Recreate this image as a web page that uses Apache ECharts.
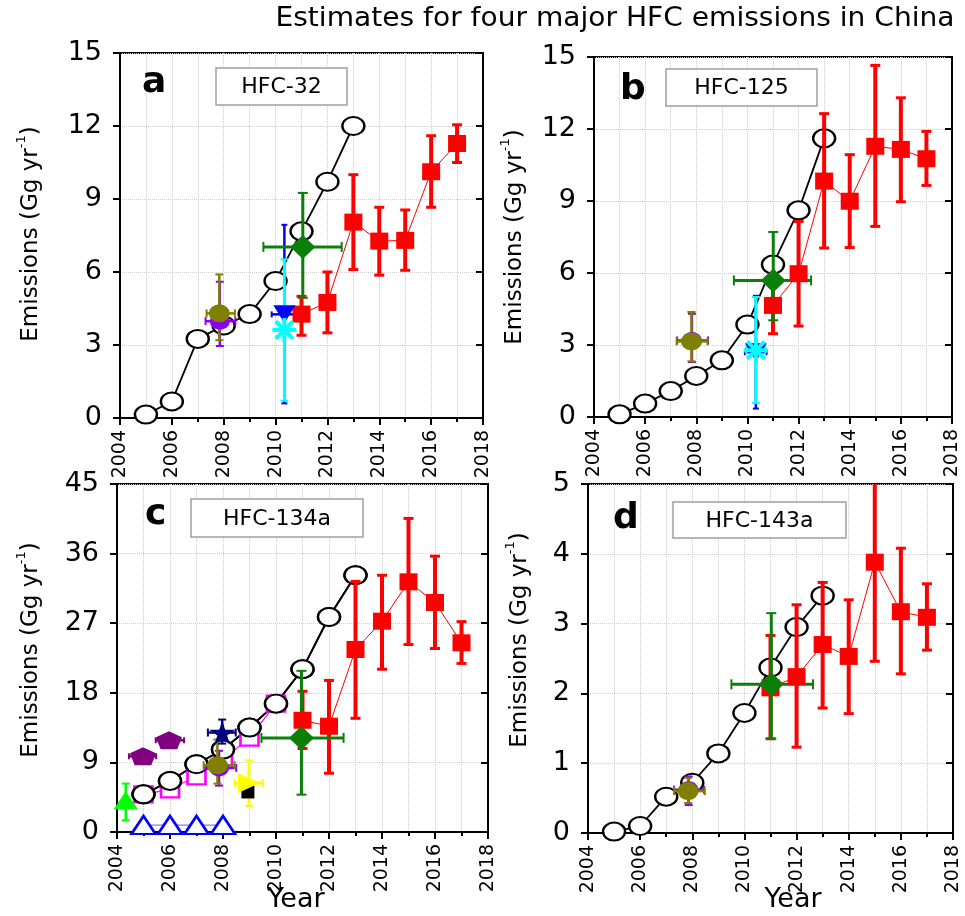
<!DOCTYPE html>
<html>
<head>
<meta charset="utf-8">
<script src="https://cdn.jsdelivr.net/npm/echarts@6/dist/echarts.min.js"></script>
<style>
  html, body { margin: 0; padding: 0; background: #fff; }
  #chart { width: 965px; height: 916px; }
</style>
</head>
<body>
<div id="chart"></div>
<script>
// ---- data ----
const yearsInv = [2005, 2006, 2007, 2008, 2009, 2010, 2011, 2012, 2013]
const yearsTop = [2011, 2012, 2013, 2014, 2015, 2016, 2017]

// black open circles (inventory)
const invA = [0.14, 0.68, 3.25, 3.8, 4.27, 5.63, 7.67, 9.71, 12.0]
const invB = [0.11, 0.56, 1.08, 1.71, 2.36, 3.85, 6.35, 8.61, 11.61]
const invC = [4.87, 6.6, 8.76, 10.66, 13.5, 16.6, 21.05, 27.8, 33.2]
const invD = [0.02, 0.1, 0.52, 0.72, 1.14, 1.72, 2.37, 2.95, 3.4]

// red squares (top-down) value / low / high
const topA = [4.27, 4.75, 8.05, 7.27, 7.3, 10.12, 11.28]
const topALo = [3.4, 3.5, 6.1, 5.87, 6.07, 8.66, 10.5]
const topAHi = [5.0, 6.0, 10.0, 8.66, 8.55, 11.6, 12.05]
const topB = [4.65, 5.97, 9.83, 8.99, 11.28, 11.15, 10.76]
const topBLo = [3.47, 3.79, 7.04, 7.06, 7.94, 8.97, 9.65]
const topBHi = [5.83, 8.15, 12.64, 10.93, 14.65, 13.3, 11.9]
const topC = [14.45, 13.68, 23.6, 27.26, 32.35, 29.68, 24.46]
const topCLo = [10.8, 7.6, 14.7, 21.05, 24.24, 23.73, 21.8]
const topCHi = [18.2, 19.6, 32.4, 33.2, 40.55, 35.67, 27.2]
const topD = [2.08, 2.24, 2.7, 2.53, 3.88, 3.17, 3.09]
const topDLo = [1.35, 1.23, 1.79, 1.71, 2.46, 2.28, 2.62]
const topDHi = [2.83, 3.27, 3.59, 3.34, 5.3, 4.08, 3.57]

// other studies: [year, value, low, high, xLow, xHigh]
const greenDiamond = [
  [2011.05, 7.03, 4.94, 9.25, 2009.53, 2012.55],
  [2011.01, 5.69, 4.03, 7.71, 2009.47, 2012.49],
  [2010.96, 12.17, 4.83, 20.84, 2009.45, 2012.55],
  [2011.03, 2.13, 1.35, 3.15, 2009.5, 2012.63]
]
const oliveCircle = [
  [2007.83, 4.3, 3.2, 5.9, 2007.34, 2008.43],
  [2007.81, 3.15, 2.32, 4.375, 2007.23, 2008.44],
  [2007.79, 8.63, 6.26, 11.95, 2007.27, 2008.44],
  [2007.84, 0.6, 0.43, 0.79, 2007.3, 2008.48]
]
const purpleCircle = [
  [2007.85, 3.98, 2.96, 5.6, 2007.3, 2008.45],
  [2007.83, 3.19, 2.29, 4.3, 2007.25, 2008.46],
  [2007.85, 8.28, 6.0, 10.5, 2007.3, 2008.5],
  [2007.86, 0.62, 0.4, 0.81, 2007.3, 2008.45]
]
const blueDown = [
  [2010.34, 4.26, 0.6, 7.94, 2009.85, 2010.8],
  [2010.33, 2.7, 0.35, 5.05, 2009.9, 2010.75]
]
const cyanStar = [
  [2010.34, 3.62, 0.71, 6.52, null, null],
  [2010.33, 2.78, 0.58, 5.0, 2009.95, 2010.7]
]

// HFC-134a only
const magentaYears = [2005, 2006, 2007, 2008, 2009, 2010]
const magentaSq = [4.87, 5.52, 7.2, 9.36, 12.2, 16.6]
const pentagonPts = [
  [2004.98, 9.79, null, null, 2004.45, 2005.48],
  [2005.96, 11.86, null, null, 2005.46, 2006.53]
]
const navyStar = [[2007.97, 12.86, 11.43, 14.54, 2007.43, 2008.48]]
const limeTri = [[2004.33, 4.1, 1.51, 6.26, null, null]]
const blueOpenYears = [2005, 2006, 2007, 2008]
const blueOpen = [0.9, 0.9, 0.9, 0.9]
const yellowTri = [[2008.98, 6.34, 3.36, 9.27, 2008.44, 2009.5]]
const blackSq = [[2008.94, 5.18]]

const panelLetters = ['a', 'b', 'c', 'd']
const panelNames = ['HFC-32', 'HFC-125', 'HFC-134a', 'HFC-143a']
const yMax = [15, 15, 45, 5]
const yStep = [3, 3, 9, 1]

// ---- layout ----
const FONT = 'DejaVu Sans'
const grids = [
  { left: 120, top: 53, width: 363, height: 365 },
  { left: 594, top: 57, width: 358, height: 360 },
  { left: 117, top: 484, width: 371, height: 348 },
  { left: 588, top: 484, width: 365, height: 349 }
]
const boxes = [
  [216, 68, 131, 37], [666, 69, 151, 37], [191, 499, 172, 38], [673, 502, 173, 36]
]
const letterPos = [[142, 83], [620, 90], [145, 515], [613, 519]]
const yNamePos = [[29, 234], [513, 237], [29, 650], [518, 640]]

const pair = (xs, ys) => xs.map((x, i) => [x, ys[i]])
const band = (xs, lo, hi) => xs.map((x, i) => [x, null, lo[i], hi[i], null, null])

// 误差棒
const errSeries = (gi, rows, color, w, cap) => ({
  type: 'custom',
  xAxisIndex: gi,
  yAxisIndex: gi * 2,
  clip: true,
  z: 3,
  silent: true,
  data: rows.map((r, i) => [r[0], i]),
  renderItem: (params, api) => {
    const r = rows[params.dataIndex]
    const st = { stroke: color, lineWidth: w }
    const cs = { stroke: color, lineWidth: Math.max(2, w - 1) }
    const kids = []
    if (r[2] != null) {
      const p1 = api.coord([r[0], r[2]])
      const p2 = api.coord([r[0], r[3]])
      kids.push({ type: 'line', shape: { x1: p1[0], y1: p1[1], x2: p2[0], y2: p2[1] }, style: st })
      kids.push({ type: 'line', shape: { x1: p1[0] - cap, y1: p1[1], x2: p1[0] + cap, y2: p1[1] }, style: cs })
      kids.push({ type: 'line', shape: { x1: p2[0] - cap, y1: p2[1], x2: p2[0] + cap, y2: p2[1] }, style: cs })
    }
    if (r[4] != null) {
      const q1 = api.coord([r[4], r[1]])
      const q2 = api.coord([r[5], r[1]])
      kids.push({ type: 'line', shape: { x1: q1[0], y1: q1[1], x2: q2[0], y2: q2[1] }, style: st })
      kids.push({ type: 'line', shape: { x1: q1[0], y1: q1[1] - cap, x2: q1[0], y2: q1[1] + cap }, style: cs })
      kids.push({ type: 'line', shape: { x1: q2[0], y1: q2[1] - cap, x2: q2[0], y2: q2[1] + cap }, style: cs })
    }
    return { type: 'group', children: kids }
  }
})

const markSeries = (gi, rows, symbol, size, color, extra) => Object.assign({
  type: 'scatter',
  xAxisIndex: gi,
  yAxisIndex: gi * 2,
  z: 4,
  symbol: symbol,
  symbolSize: size,
  itemStyle: { color: color, opacity: 1 },
  data: rows.map(r => [r[0], r[1]])
}, extra || {})

// 星号（青色）
const asteriskSeries = (gi, rows) => ({
  type: 'custom',
  xAxisIndex: gi,
  yAxisIndex: gi * 2,
  z: 5,
  silent: true,
  data: rows.map((r, i) => [r[0], r[1]]),
  renderItem: (params, api) => {
    const c = api.coord([api.value(0), api.value(1)])
    const st = { stroke: '#00ffff', lineWidth: 4 }
    const L = 12
    const d = L * 0.72
    return {
      type: 'group',
      children: [
        { type: 'line', shape: { x1: c[0] - L, y1: c[1], x2: c[0] + L, y2: c[1] }, style: st },
        { type: 'line', shape: { x1: c[0], y1: c[1] - L, x2: c[0], y2: c[1] + L }, style: st },
        { type: 'line', shape: { x1: c[0] - d, y1: c[1] - d, x2: c[0] + d, y2: c[1] + d }, style: st },
        { type: 'line', shape: { x1: c[0] - d, y1: c[1] + d, x2: c[0] + d, y2: c[1] - d }, style: st }
      ]
    }
  }
})

const invLine = (gi, ys) => ({
  type: 'line',
  xAxisIndex: gi,
  yAxisIndex: gi * 2,
  z: 2,
  data: pair(yearsInv, ys),
  symbol: 'circle',
  symbolSize: [22, 18],
  showAllSymbol: true,
  lineStyle: { color: '#000', width: 1.8 },
  itemStyle: { color: '#fff', borderColor: '#000', borderWidth: 2.2 }
})

const topLine = (gi, ys) => ({
  type: 'line',
  xAxisIndex: gi,
  yAxisIndex: gi * 2,
  z: 4,
  data: pair(yearsTop, ys),
  symbol: 'rect',
  symbolSize: [18, 17],
  lineStyle: { color: '#ff0000', width: 1 },
  itemStyle: { color: '#ff0000' }
})

const tops = [[topA, topALo, topAHi], [topB, topBLo, topBHi], [topC, topCLo, topCHi], [topD, topDLo, topDHi]]
const invs = [invA, invB, invC, invD]

const starPath = 'path://M50,0 L61,35 L98,35 L68,57 L79,91 L50,70 L21,91 L32,57 L2,35 L39,35 Z'
const pentaPath = 'path://M50,0 L100,30 L82,90 L18,90 L0,30 Z'
const downTri = 'path://M0,0 L100,0 L50,90 Z'
const rightTri = 'path://M0,0 L90,50 L0,100 Z'

const series = []
for (let g = 0; g < 4; g++) {
  series.push(invLine(g, invs[g]))
}
// 134a extra series drawn under the others
series.push({
  type: 'line', xAxisIndex: 2, yAxisIndex: 4, z: 2,
  data: pair(magentaYears, magentaSq),
  symbol: 'rect', symbolSize: [18, 16],
  lineStyle: { color: '#ff00ff', width: 1.2 },
  itemStyle: { color: '#fff', borderColor: '#ff00ff', borderWidth: 2.5 }
})
series.push(invLine(2, invC))
series.push({
  type: 'line', xAxisIndex: 2, yAxisIndex: 4, z: 3,
  data: pair(blueOpenYears, blueOpen),
  symbol: 'triangle', symbolSize: [24, 18],
  lineStyle: { color: '#7f7fff', width: 1.2 },
  itemStyle: { color: '#fff', borderColor: '#0000ff', borderWidth: 2.5 }
})

for (let g = 0; g < 4; g++) {
  const t = tops[g]
  series.push(errSeries(g, band(yearsTop, t[1], t[2]), '#ff0000', 4, 5))
  series.push(topLine(g, t[0]))
}

for (let g = 0; g < 4; g++) {
  series.push(errSeries(g, [purpleCircle[g]], '#8a00f0', 2.5, 4))
  series.push(markSeries(g, [purpleCircle[g]], 'circle', [20, 17], '#8a00f0'))
  series.push(errSeries(g, [oliveCircle[g]], '#808000', 2.5, 4))
  series.push(markSeries(g, [oliveCircle[g]], 'circle', [21, 18], '#808000'))
}
for (let g = 0; g < 2; g++) {
  series.push(errSeries(g, [blueDown[g]], '#0000ff', 2.5, 3))
  series.push(markSeries(g, [blueDown[g]], downTri, [22, 18], '#0000ff'))
  series.push(errSeries(g, [cyanStar[g]], '#00ffff', 3, 4))
  series.push(asteriskSeries(g, [cyanStar[g]]))
}
for (let g = 0; g < 4; g++) {
  series.push(errSeries(g, [greenDiamond[g]], '#0a800a', 3, 5))
  series.push(markSeries(g, [greenDiamond[g]], 'diamond', [25, 24], '#0a800a'))
}

// HFC-134a other markers
series.push(errSeries(2, pentagonPts, '#800080', 2.5, 3))
series.push(markSeries(2, pentagonPts, pentaPath, [26, 18], '#800080'))
series.push(errSeries(2, navyStar, '#000080', 2.5, 4))
series.push(markSeries(2, navyStar, starPath, [26, 24], '#000080'))
series.push(errSeries(2, limeTri, '#00ff00', 2.5, 4))
series.push(markSeries(2, limeTri, 'triangle', [24, 18], '#00ff00'))
series.push(markSeries(2, blackSq, 'rect', 13, '#000'))
series.push(errSeries(2, yellowTri, '#ffff00', 3, 4))
series.push(markSeries(2, yellowTri, rightTri, [22, 20], '#ffff00'))

const xAxes = grids.map((gr, i) => ({
  type: 'value',
  gridIndex: i,
  min: 2004,
  max: 2018,
  interval: 2,
  axisLine: { onZero: false, lineStyle: { color: '#000', width: 2 } },
  axisTick: { inside: false, length: 7, lineStyle: { color: '#000', width: 2 } },
  minorTick: { show: true, splitNumber: 2, length: 4, lineStyle: { color: '#000', width: 2 } },
  splitLine: { show: true, lineStyle: { color: '#cfcfcf', type: 'dotted', width: 1 } },
  minorSplitLine: { show: true, lineStyle: { color: '#cfcfcf', type: 'dotted', width: 1 } },
  axisLabel: {
    rotate: 90, margin: 12, color: '#000',
    fontFamily: FONT, fontSize: 19,
    formatter: v => String(v)
  }
}))

const yAxes = []
grids.forEach((gr, i) => {
  yAxes.push({
    type: 'value',
    gridIndex: i,
    min: 0,
    max: yMax[i],
    interval: yStep[i],
    axisLine: { show: true, lineStyle: { color: '#000', width: 2 } },
    axisTick: { show: true, inside: false, length: 7, lineStyle: { color: '#000', width: 2 } },
    splitLine: { show: true, lineStyle: { color: '#cfcfcf', type: 'dotted', width: 1 } },
    axisLabel: { margin: 18, color: '#000', fontFamily: FONT, fontSize: 27 }
  })
  yAxes.push({
    type: 'value',
    gridIndex: i,
    position: 'right',
    min: 0,
    max: yMax[i],
    interval: yStep[i],
    axisLine: { show: true, lineStyle: { color: '#000', width: 2 } },
    axisTick: { show: true, inside: true, length: 7, lineStyle: { color: '#000', width: 2 } },
    splitLine: { show: false },
    axisLabel: { show: false }
  })
})

const graphics = [{
  type: 'text',
  x: 615, y: 19,
  scaleX: 1.08,
  style: { text: 'Estimates for four major HFC emissions in China', font: '26px "' + FONT + '"', fill: '#000', align: 'center', verticalAlign: 'middle' }
}]
for (let i = 0; i < 4; i++) {
  const b = boxes[i]
  graphics.push({
    type: 'rect', z: 50,
    shape: { x: b[0], y: b[1], width: b[2], height: b[3] },
    style: { fill: '#fff', stroke: '#a0a0a0', lineWidth: 1.5 }
  })
  graphics.push({
    type: 'text', z: 51,
    x: b[0] + b[2] / 2, y: b[1] + b[3] / 2 + 1,
    style: { text: panelNames[i], font: '22px "' + FONT + '"', fill: '#000', align: 'center', verticalAlign: 'middle' }
  })
  graphics.push({
    type: 'text', z: 51,
    x: letterPos[i][0], y: letterPos[i][1],
    style: { text: panelLetters[i], font: 'bold 36px "' + FONT + '"', fill: '#000', align: 'left', verticalAlign: 'middle' }
  })
  graphics.push({
    type: 'text', z: 51,
    x: yNamePos[i][0], y: yNamePos[i][1],
    rotation: Math.PI / 2,
    style: {
      text: '{m|Emissions (Gg yr}{s|-1}{m|)}',
      align: 'center', verticalAlign: 'middle',
      rich: {
        m: { fontFamily: FONT, fontSize: 23, fill: '#000', color: '#000', lineHeight: 28, verticalAlign: 'bottom' },
        s: { fontFamily: FONT, fontSize: 13, fill: '#000', color: '#000', lineHeight: 28, verticalAlign: 'top' }
      }
    }
  })
}
graphics.push({
  type: 'text', x: 296, y: 900,
  style: { text: 'Year', font: '27px "' + FONT + '"', fill: '#000', align: 'center', verticalAlign: 'middle' }
})
graphics.push({
  type: 'text', x: 793, y: 900,
  style: { text: 'Year', font: '27px "' + FONT + '"', fill: '#000', align: 'center', verticalAlign: 'middle' }
})

const chart = echarts.init(document.getElementById('chart'))
chart.setOption({
  backgroundColor: '#fff',
  animation: false,
  grid: grids.map(g => Object.assign({ show: true, borderColor: '#000', borderWidth: 2, backgroundColor: 'transparent' }, g)),
  xAxis: xAxes,
  yAxis: yAxes,
  series: series,
  graphic: graphics
})
</script>
</body>
</html>
